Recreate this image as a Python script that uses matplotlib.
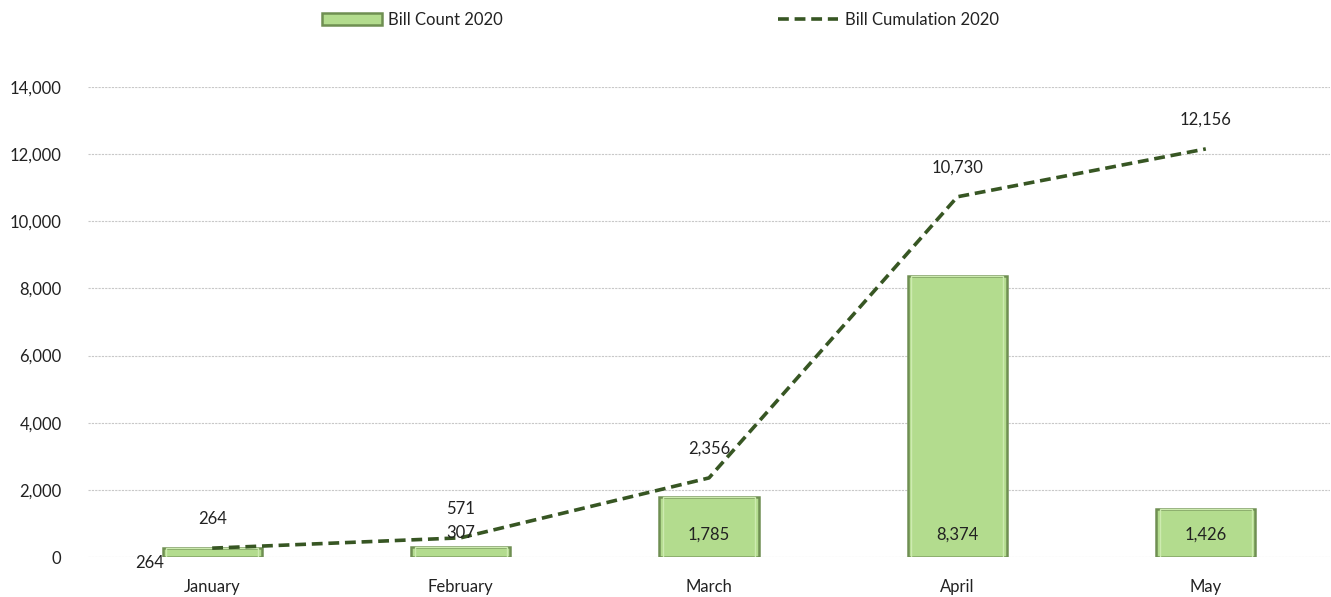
import numpy as np
import matplotlib.pyplot as plt
from matplotlib.ticker import FuncFormatter

plt.rcParams['font.family'] = ['Lato', 'DejaVu Sans']

months = ["January", "February", "March", "April", "May"]
bill_count = [264, 307, 1785, 8374, 1426]
bill_cumulation = [264, 571, 2356, 10730, 12156]

bar_face = "#b3dc8e"
bar_edge = "#6f8f52"
line_color = "#375623"
text_color = "#222222"

fig = plt.figure(figsize=(13.31, 5.97), dpi=100)
ax = fig.add_axes([88 / 1331, 1 - 557 / 597, 1242 / 1331, 470 / 597])

x = np.arange(len(months))
bars = ax.bar(x, bill_count, width=0.4, color=bar_face, edgecolor=bar_edge,
              linewidth=1.8, label="Bill Count 2020", zorder=2)
# lighter inner bevel
ax.bar(x, bill_count, width=0.37, color="none", edgecolor="#cdebb0",
       linewidth=1.0, zorder=2.5)
line, = ax.plot(x, bill_cumulation, linestyle=(0, (3, 1.6)), color=line_color,
                linewidth=2.6, label="Bill Cumulation 2020", zorder=3)

ax.set_xlim(-0.5, len(months) - 0.5)
ax.set_ylim(0, 14000)
ax.set_yticks(np.arange(0, 14001, 2000))
ax.yaxis.set_major_formatter(FuncFormatter(lambda v, p: f"{int(v):,}"))
ax.set_xticks(x)
ax.set_xticklabels(months)
ax.tick_params(axis="both", length=0, labelsize=12, colors=text_color)
ax.tick_params(axis="y", pad=19)
ax.tick_params(axis="x", pad=16)
ax.grid(axis="y", color="#c8c8c8", linewidth=0.8, linestyle=(0, (2, 1)), zorder=0)
for s in ax.spines.values():
    s.set_visible(False)

# cumulative labels above the line
for i, v in enumerate(bill_cumulation):
    ax.annotate(f"{v:,}", (x[i], v), xytext=(0, 21),
                textcoords="offset points", ha="center", va="center",
                fontsize=12, color=text_color)

# bar labels
for i, v in enumerate(bill_count):
    if i == 0:
        ax.annotate(f"{v:,}", (x[i] - 0.25, 0), xytext=(0, -4),
                    textcoords="offset points", ha="center", va="center",
                    fontsize=12, color=text_color)
    elif i == 1:
        ax.annotate(f"{v:,}", (x[i], v), xytext=(0, 10),
                    textcoords="offset points", ha="center", va="center",
                    fontsize=12, color=text_color)
    else:
        ax.annotate(f"{v:,}", (x[i], 0), xytext=(0, 16),
                    textcoords="offset points", ha="center", va="center",
                    fontsize=12, color=text_color)

fig.legend(handles=[bars, line], loc="upper center", bbox_to_anchor=(0.496, 1.005),
           ncol=2, frameon=False, fontsize=12, handlelength=3.6, handleheight=0.7,
           columnspacing=16.5, handletextpad=0.4, labelcolor=text_color)

fig.savefig("out.png", dpi=100)
